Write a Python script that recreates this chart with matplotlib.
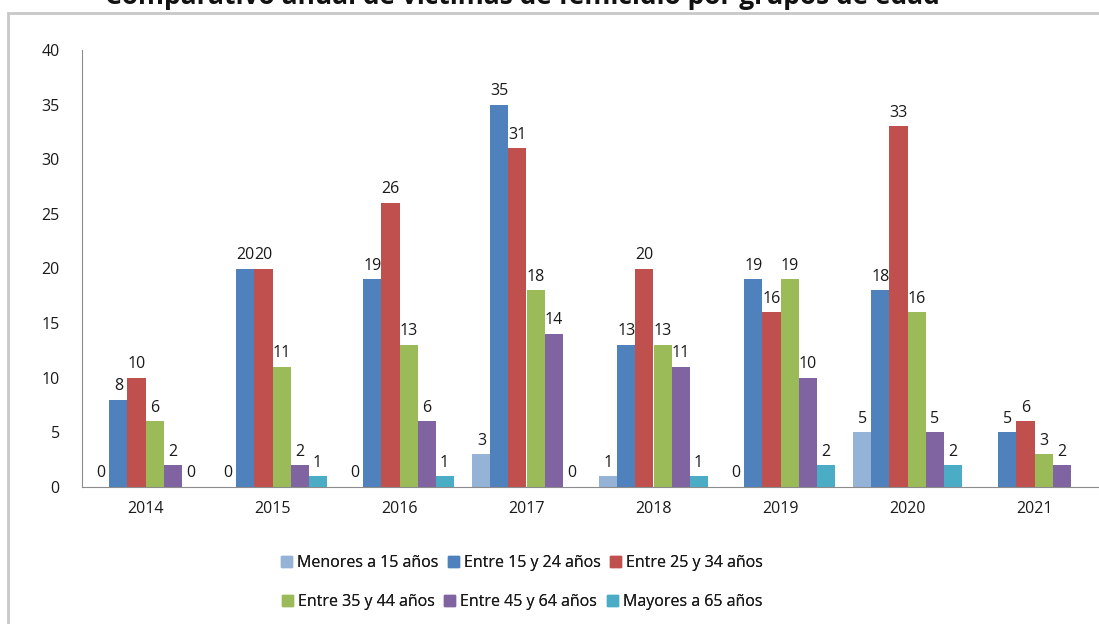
import numpy as np
import matplotlib
matplotlib.use('Agg')
import matplotlib.pyplot as plt
from matplotlib.patches import Rectangle, Patch

plt.rcParams['font.family'] = ['Open Sans', 'DejaVu Sans']

# datos
anios = ['2014', '2015', '2016', '2017', '2018', '2019', '2020', '2021']
grupos = ['Menores a 15 años', 'Entre 15 y 24 años', 'Entre 25 y 34 años',
          'Entre 35 y 44 años', 'Entre 45 y 64 años', 'Mayores a 65 años']
menores_15 = [0, 0, 0, 3, 1, 0, 5, np.nan]
entre_15_24 = [8, 20, 19, 35, 13, 19, 18, 5]
entre_25_34 = [10, 20, 26, 31, 20, 16, 33, 6]
entre_35_44 = [6, 11, 13, 18, 13, 19, 16, 3]
entre_45_64 = [2, 2, 6, 14, 11, 10, 5, 2]
mayores_65 = [0, 1, 1, 0, 1, 2, 2, np.nan]
series = [menores_15, entre_15_24, entre_25_34, entre_35_44, entre_45_64, mayores_65]
colores = ['#95B3D7', '#4F81BD', '#C0504D', '#9BBB59', '#8064A2', '#4BACC6']

fig = plt.figure(figsize=(10.99, 6.24), dpi=100)
ax = fig.add_axes([82/1099, 1 - 487/624, 1016/1099, (487 - 50)/624])

x = np.arange(len(anios))
ancho = 0.142
for i, (vals, col) in enumerate(zip(series, colores)):
    pos = x + (i - 2.5) * ancho
    vals = np.array(vals, dtype=float)
    barras = ax.bar(pos, vals, ancho, color=col, label=grupos[i])
    etiquetas = ['' if np.isnan(v) else '%d' % v for v in vals]
    ax.bar_label(barras, labels=etiquetas, padding=4, fontsize=11.5, color='#1a1a1a')

ax.set_xlim(-0.5, len(anios) - 0.5)
ax.set_ylim(0, 40)
ax.set_yticks(range(0, 41, 5))
ax.set_xticks(x)
ax.set_xticklabels(anios)
ax.tick_params(axis='both', length=0, labelsize=11.5, colors='#1a1a1a')
ax.tick_params(axis='y', pad=16)
ax.tick_params(axis='x', pad=10)
for s in ['top', 'right']:
    ax.spines[s].set_visible(False)
for s in ['left', 'bottom']:
    ax.spines[s].set_color('#8C8C8C')

# leyenda en dos filas
h = [Patch(color=c) for c in colores]
for fila, yy in [(0, 563), (1, 602)]:
    leg = fig.legend(h[fila*3:fila*3+3], grupos[fila*3:fila*3+3], ncol=3,
                     loc='center', bbox_to_anchor=(522/1099, 1 - yy/624),
                     frameon=False, fontsize=11.5, handlelength=0.7, handleheight=0.7,
                     handletextpad=0.3, columnspacing=0.6, labelcolor='#1a1a1a')
    fig.add_artist(leg)

# marco y titulo (cortado arriba como en la imagen original)
fig.patches.append(Rectangle((8/1099, -0.1), 1.2, 1.1 - 13/624, transform=fig.transFigure,
                             fill=False, edgecolor='#C8C8C8', linewidth=2))
fig.text(522/1099, 1 - 4/624, 'Comparativo anual de víctimas de femicidio por grupos de edad',
         ha='center', va='baseline', fontsize=19, fontweight='bold', color='#111111')

fig.savefig('out.png', dpi=100)
